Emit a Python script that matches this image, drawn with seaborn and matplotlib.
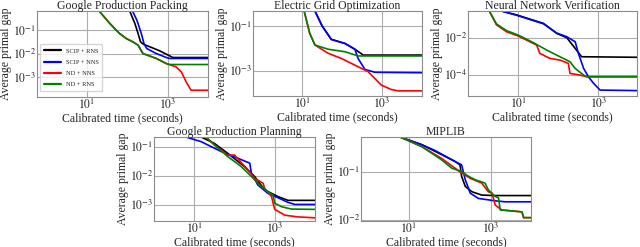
import numpy as np
import pandas as pd
import matplotlib
matplotlib.use("Agg")
import matplotlib.pyplot as plt
import seaborn as sns

# ---------------- data (log10 of seconds, log10 of gap) ----------------
methods = ["SCIP + RNS", "SCIP + NNS", "ND + NNS", "ND + RNS"]
colors = ["#000000", "#0000ff", "#ff0000", "#008000"]
titles = ["Google Production Packing", "Electric Grid Optimization",
          "Neural Network Verification", "Google Production Planning", "MIPLIB"]

# Panel 1: Google Production Packing
p1_black_t = [2.03, 2.07, 2.19, 2.27, 2.33, 2.40, 2.80, 3.13, 4.0]
p1_black_g = [0.0, -0.21, -0.71, -1.14, -1.50, -1.60, -1.88, -2.17, -2.17]
p1_blue_t = [2.10, 2.14, 2.24, 2.35, 2.42, 2.49, 2.72, 2.97, 3.05, 4.0]
p1_blue_g = [0.0, -0.21, -0.57, -1.14, -1.60, -1.79, -2.00, -2.17, -2.21, -2.21]
p1_red_t = [1.28, 1.32, 1.57, 1.69, 1.81, 1.98, 2.14, 2.27, 2.39, 2.72, 2.97, 3.21, 3.34, 3.46, 3.58, 4.0]
p1_red_g = [0.0, -0.21, -0.71, -0.93, -1.14, -1.36, -1.50, -1.64, -2.00, -2.21, -2.43, -2.57, -2.79, -3.21, -3.57, -3.57]
p1_green_t = [1.28, 1.32, 1.57, 1.69, 1.81, 1.98, 2.14, 2.27, 2.39, 2.72, 2.97, 3.05, 4.0]
p1_green_g = [0.0, -0.21, -0.71, -0.93, -1.14, -1.36, -1.50, -1.64, -2.00, -2.21, -2.43, -2.47, -2.47]

# Panel 2: Electric Grid Optimization
p2_black_t = [1.28, 1.32, 1.50, 1.73, 2.07, 2.32, 2.53, 4.0]
p2_black_g = [0.0, -0.33, -1.00, -1.60, -1.78, -2.04, -2.30, -2.30]
p2_blue_t = [1.28, 1.32, 1.50, 1.73, 2.07, 2.32, 2.40, 2.57, 2.82, 4.0]
p2_blue_g = [0.0, -0.33, -1.00, -1.60, -1.78, -2.04, -2.45, -2.94, -3.07, -3.09]
p2_red_t = [1.02, 1.05, 1.19, 1.32, 1.65, 1.98, 2.32, 2.65, 2.98, 3.23, 3.40, 4.0]
p2_red_g = [0.0, -0.33, -1.33, -1.85, -2.22, -2.45, -2.75, -3.04, -3.64, -3.84, -3.90, -3.90]
p2_green_t = [1.02, 1.05, 1.19, 1.32, 1.65, 2.07, 2.40, 4.0]
p2_green_g = [0.0, -0.33, -1.33, -1.85, -2.04, -2.15, -2.34, -2.34]

# Panel 3: Neural Network Verification
p3_black_t = [0.50, 0.58, 0.96, 1.63, 1.96, 2.21, 2.42, 2.58, 4.0]
p3_black_g = [-0.40, -0.56, -0.77, -1.23, -1.77, -2.00, -2.58, -3.03, -3.06]
p3_blue_t = [0.50, 0.58, 0.96, 1.63, 1.96, 2.21, 2.42, 2.50, 2.63, 2.75, 2.88, 3.04, 4.0]
p3_blue_g = [-0.40, -0.56, -0.79, -1.25, -1.75, -1.95, -2.22, -2.85, -3.66, -4.11, -4.47, -4.83, -4.86]
p3_red_t = [0.25, 0.28, 0.46, 0.71, 1.00, 1.46, 1.54, 1.79, 2.04, 2.25, 2.29, 2.54, 2.71, 4.0]
p3_red_g = [-0.40, -0.56, -1.31, -1.68, -1.91, -2.40, -2.85, -3.12, -3.21, -3.39, -3.93, -4.02, -4.11, -4.11]
p3_green_t = [0.25, 0.28, 0.46, 0.71, 1.00, 1.38, 1.71, 2.04, 2.29, 2.42, 2.63, 2.71, 4.0]
p3_green_g = [-0.40, -0.56, -1.26, -1.62, -1.86, -2.27, -2.67, -3.03, -3.30, -3.66, -4.02, -4.11, -4.11]

# Panel 4: Google Production Planning
p4_black_t = [1.10, 1.17, 1.50, 1.83, 2.25, 2.50, 2.75, 3.08, 3.33, 4.0]
p4_black_g = [-0.60, -0.67, -0.89, -1.23, -1.69, -2.03, -2.49, -2.72, -2.85, -2.85]
p4_blue_t = [0.70, 0.79, 1.17, 1.67, 2.08, 2.38, 2.42, 2.58, 2.83, 3.08, 3.33, 3.50, 4.0]
p4_blue_g = [-0.60, -0.67, -0.83, -1.17, -1.40, -1.57, -1.92, -2.32, -2.61, -2.76, -2.92, -2.99, -2.99]
p4_red_t = [1.22, 1.29, 1.50, 1.83, 2.00, 2.33, 2.50, 2.71, 2.75, 2.92, 2.96, 3.00, 3.25, 3.58, 4.0]
p4_red_g = [-0.60, -0.67, -0.94, -1.30, -1.29, -1.80, -2.09, -2.26, -2.44, -2.72, -2.95, -3.16, -3.36, -3.42, -3.45]
p4_green_t = [1.22, 1.29, 1.50, 1.83, 2.17, 2.42, 2.67, 2.83, 2.96, 3.00, 3.17, 3.42, 4.0]
p4_green_g = [-0.60, -0.67, -0.94, -1.34, -1.69, -2.03, -2.38, -2.55, -2.67, -2.95, -3.07, -3.15, -3.16]

# Panel 5: MIPLIB
p5_black_t = [0.70, 0.78, 1.31, 1.80, 2.12, 2.24, 2.28, 2.37, 2.53, 2.77, 3.10, 4.0]
p5_black_g = [-0.22, -0.28, -0.44, -0.65, -0.79, -0.86, -1.10, -1.31, -1.42, -1.49, -1.50, -1.50]
p5_blue_t = [0.70, 0.78, 1.31, 1.63, 2.12, 2.28, 2.37, 2.49, 2.69, 3.10, 3.34, 4.0]
p5_blue_g = [-0.22, -0.28, -0.44, -0.56, -0.79, -0.86, -1.17, -1.45, -1.56, -1.61, -1.63, -1.63]
p5_red_t = [0.70, 0.78, 1.31, 1.80, 2.12, 2.28, 2.49, 2.77, 2.93, 3.02, 3.10, 3.26, 3.50, 3.75, 3.79, 4.0]
p5_red_g = [-0.22, -0.28, -0.48, -0.73, -0.93, -1.03, -1.14, -1.24, -1.42, -1.45, -1.70, -1.80, -1.82, -1.84, -1.96, -1.96]
p5_green_t = [0.70, 0.78, 1.31, 1.80, 2.04, 2.28, 2.45, 2.61, 2.85, 2.93, 3.10, 3.18, 3.22, 3.50, 3.75, 3.79, 4.0]
p5_green_g = [-0.22, -0.28, -0.48, -0.76, -0.93, -1.00, -1.10, -1.17, -1.24, -1.38, -1.52, -1.55, -1.80, -1.82, -1.84, -1.96, -1.96]

panels = [
    [(p1_black_t, p1_black_g), (p1_blue_t, p1_blue_g), (p1_red_t, p1_red_g), (p1_green_t, p1_green_g)],
    [(p2_black_t, p2_black_g), (p2_blue_t, p2_blue_g), (p2_red_t, p2_red_g), (p2_green_t, p2_green_g)],
    [(p3_black_t, p3_black_g), (p3_blue_t, p3_blue_g), (p3_red_t, p3_red_g), (p3_green_t, p3_green_g)],
    [(p4_black_t, p4_black_g), (p4_blue_t, p4_blue_g), (p4_red_t, p4_red_g), (p4_green_t, p4_green_g)],
    [(p5_black_t, p5_black_g), (p5_blue_t, p5_blue_g), (p5_red_t, p5_red_g), (p5_green_t, p5_green_g)],
]

# axis limits (log10) and tick exponents
xlims = [(-0.23, 4.0), (-0.23, 4.0), (-0.25, 3.96), (0.0, 4.0), (-0.17, 3.97)]
ylims = [(-3.86, -0.18), (-4.13, -0.33), (-5.15, -0.56), (-3.56, -0.67), (-2.03, -0.28)]
yticks = [[-3, -2, -1], [-3, -1], [-4, -2], [-3, -2, -1], [-2, -1]]
xticks = [1, 3]

# axes boxes in pixels (left, top, right, bottom)
boxes = [(37, 11, 208, 97), (253, 11, 422, 96), (468, 11, 637, 96),
         (154, 137, 315, 221), (361, 137, 531, 221)]

# ---------------- style ----------------
sns.set_style("whitegrid", {"axes.edgecolor": "0.55", "grid.color": "0.68",
                            "axes.linewidth": 0.9, "grid.linewidth": 0.8})
plt.rcParams["font.family"] = ["Liberation Serif", "DejaVu Serif"]
plt.rcParams["mathtext.fontset"] = "stix"

W, H = 640, 247
fig = plt.figure(figsize=(W / 100, H / 100), dpi=100)

for i, series in enumerate(panels):
    l, t, r, b = boxes[i]
    ax = fig.add_axes([l / W, 1 - b / H, (r - l) / W, (b - t) / H])
    rows = []
    for m, (ts, gs) in zip(methods, series):
        for tv, gv in zip(ts, gs):
            rows.append({"time": 10 ** tv, "gap": 10 ** gv, "method": m})
    df = pd.DataFrame(rows)
    sns.lineplot(data=df, x="time", y="gap", hue="method", hue_order=methods,
                 palette=colors, estimator=None, sort=False, units="method",
                 linewidth=1.2, ax=ax, legend=(i == 0))
    ax.set_xscale("log")
    ax.set_yscale("log")
    ax.set_xlim(10 ** xlims[i][0], 10 ** xlims[i][1])
    ax.set_ylim(10 ** ylims[i][0], 10 ** ylims[i][1])
    ax.set_xticks([10.0 ** e for e in xticks])
    ax.set_xticklabels([rf"$10^{{{e}}}$" for e in xticks])
    ax.set_yticks([10.0 ** e for e in yticks[i]])
    ax.set_yticklabels([rf"$10^{{{e}}}$" for e in yticks[i]])
    ax.minorticks_off()
    ax.tick_params(axis="both", labelsize=8.5, pad=0.5, length=0)
    ax.set_xlabel("Calibrated time (seconds)", fontsize=8.5, labelpad=0)
    ax.set_ylabel("Average primal gap", fontsize=8.5, labelpad=0.5)
    ax.set_title(titles[i], fontsize=8.5, pad=1.2)
    if i == 0:
        leg = ax.legend(loc="lower left", fontsize=4.6, frameon=True,
                        handlelength=2.6, borderpad=0.6, labelspacing=0.9,
                        bbox_to_anchor=(0.0, 0.03))
        leg.get_frame().set_edgecolor("0.8")
        for ln in leg.get_lines():
            ln.set_linewidth(1.6)

fig.savefig("out.png", dpi=100)
